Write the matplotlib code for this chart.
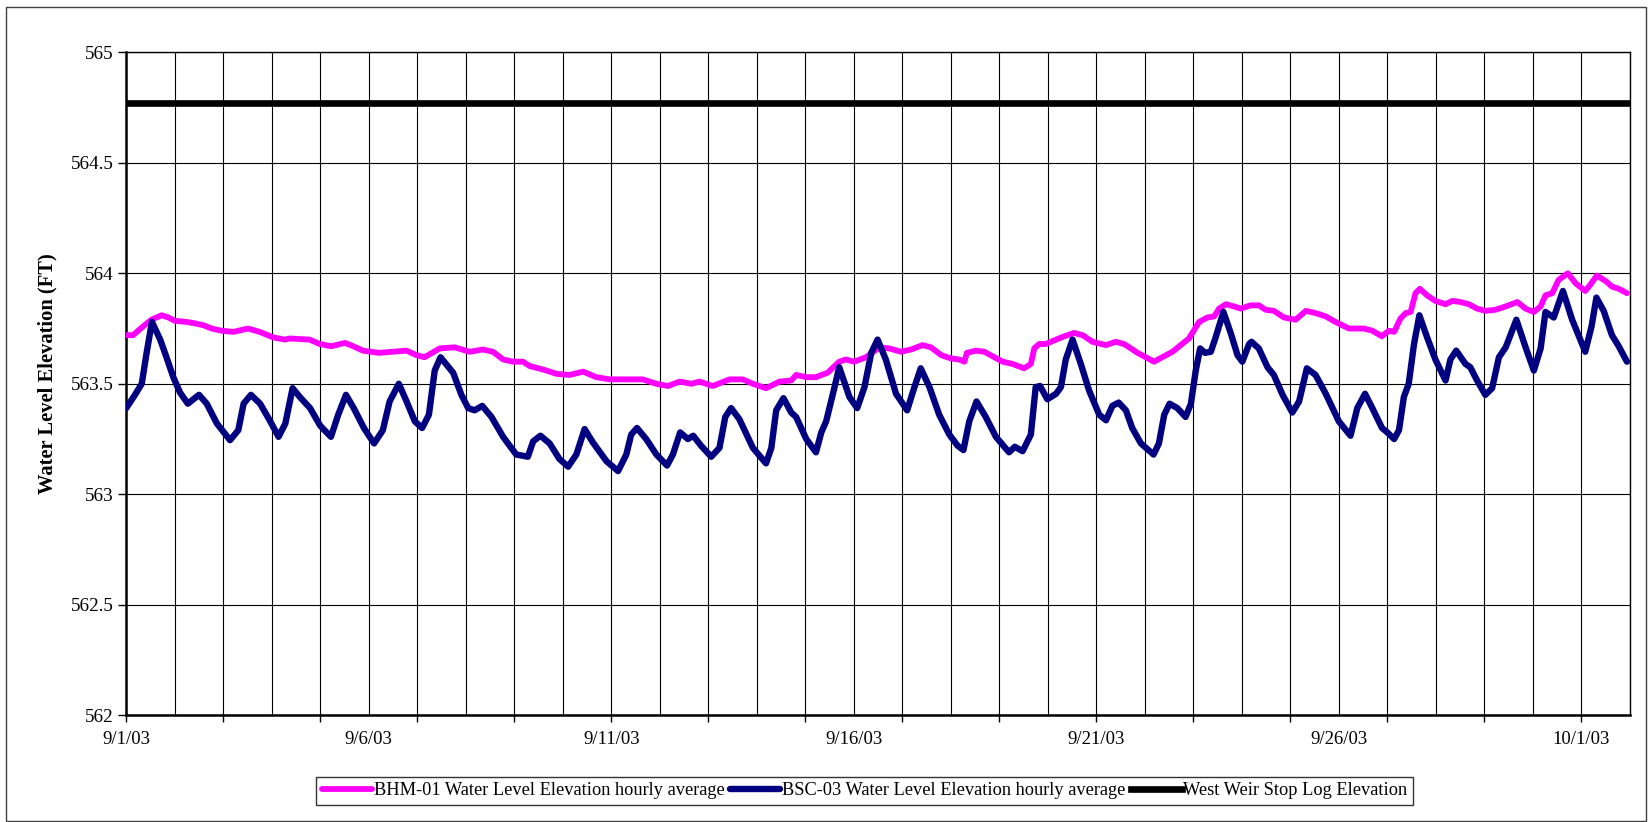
import datetime as dt
import matplotlib
matplotlib.use("Agg")
import matplotlib.pyplot as plt
import matplotlib.dates as mdates
from matplotlib.ticker import FixedLocator, FuncFormatter
from matplotlib.patches import Rectangle

# ---- data -----------------------------------------------------------------
start = dt.datetime(2003, 9, 1)

# BSC-03 water level elevation, hourly average (days since 9/1/03, ft)
bsc_day = [0.00, 0.18, 0.32, 0.42, 0.53, 0.70, 0.83, 0.97, 1.11, 1.27, 1.50, 1.66,
           1.87, 2.14, 2.31, 2.42, 2.57, 2.76, 2.97, 3.14, 3.28, 3.43, 3.58, 3.79,
           4.00, 4.22, 4.37, 4.53, 4.69, 4.90, 5.11, 5.29, 5.43, 5.62, 5.78, 5.95,
           6.10, 6.24, 6.36, 6.48, 6.74, 6.91, 7.05, 7.18, 7.34, 7.53, 7.77, 8.04,
           8.28, 8.39, 8.54, 8.73, 8.93, 9.11, 9.28, 9.45, 9.62, 9.90, 10.14, 10.31,
           10.41, 10.53, 10.72, 10.93, 11.15, 11.27, 11.42, 11.58, 11.69, 11.85, 12.06,
           12.23, 12.35, 12.47, 12.64, 12.92, 13.19, 13.30, 13.40, 13.55, 13.71, 13.81,
           14.02, 14.22, 14.33, 14.43, 14.57, 14.70, 14.91, 15.07, 15.22, 15.36, 15.49,
           15.66, 15.87, 16.10, 16.25, 16.38, 16.56, 16.76, 16.97, 17.14, 17.26, 17.38,
           17.53, 17.72, 17.93, 18.20, 18.32, 18.48, 18.65, 18.75, 18.84, 18.99, 19.17,
           19.27, 19.37, 19.51, 19.68, 19.85, 20.06, 20.20, 20.33, 20.46, 20.61, 20.74,
           20.92, 21.18, 21.29, 21.40, 21.51, 21.67, 21.84, 21.95, 22.05, 22.14, 22.24,
           22.36, 22.46, 22.62, 22.77, 22.91, 23.01, 23.15, 23.20, 23.35, 23.53, 23.66,
           23.84, 24.04, 24.18, 24.34, 24.52, 24.73, 25.00, 25.24, 25.38, 25.54, 25.69,
           25.89, 26.00, 26.14, 26.24, 26.34, 26.44, 26.55, 26.66, 26.82, 26.99, 27.20,
           27.30, 27.42, 27.61, 27.71, 27.85, 28.02, 28.16, 28.30, 28.44, 28.66, 28.85,
           29.02, 29.16, 29.26, 29.43, 29.62, 29.81, 30.08, 30.21, 30.31, 30.46, 30.63,
           30.77, 30.94]
bsc_level = [563.39, 563.45, 563.50, 563.64, 563.78, 563.70, 563.62, 563.53, 563.46,
             563.41, 563.45, 563.41, 563.32, 563.245, 563.29, 563.41, 563.45, 563.41,
             563.33, 563.26, 563.32, 563.48, 563.44, 563.39, 563.31, 563.26, 563.36,
             563.45, 563.39, 563.30, 563.23, 563.29, 563.42, 563.50, 563.42, 563.33,
             563.30, 563.36, 563.56, 563.62, 563.55, 563.45, 563.39, 563.38, 563.40,
             563.35, 563.26, 563.18, 563.17, 563.24, 563.265, 563.23, 563.16, 563.125,
             563.18, 563.295, 563.235, 563.15, 563.105, 563.18, 563.27, 563.30, 563.25,
             563.18, 563.13, 563.18, 563.28, 563.25, 563.265, 563.22, 563.17, 563.21,
             563.35, 563.39, 563.34, 563.21, 563.14, 563.21, 563.38, 563.435, 563.37,
             563.35, 563.25, 563.19, 563.28, 563.33, 563.455, 563.575, 563.44, 563.39,
             563.485, 563.64, 563.70, 563.61, 563.455, 563.38, 563.485, 563.57, 563.485,
             563.36, 563.27, 563.22, 563.20, 563.33, 563.42, 563.35, 563.26, 563.19,
             563.215, 563.195, 563.27, 563.485, 563.49, 563.43, 563.455, 563.485, 563.61,
             563.70, 563.59, 563.47, 563.36, 563.335, 563.40, 563.415, 563.38, 563.30,
             563.23, 563.18, 563.23, 563.36, 563.41, 563.39, 563.35, 563.41, 563.56,
             563.66, 563.64, 563.645, 563.71, 563.825, 563.73, 563.63, 563.60, 563.68,
             563.69, 563.66, 563.575, 563.54, 563.45, 563.37, 563.42, 563.57, 563.54,
             563.455, 563.33, 563.265, 563.39, 563.455, 563.39, 563.30, 563.28, 563.25,
             563.29, 563.44, 563.50, 563.68, 563.81, 563.71, 563.61, 563.515, 563.61,
             563.65, 563.59, 563.575, 563.515, 563.45, 563.48, 563.62, 563.665, 563.79,
             563.665, 563.56, 563.66, 563.825, 563.80, 563.92, 563.79, 563.645, 563.76,
             563.89, 563.83, 563.72, 563.67, 563.60]

# BHM-01 water level elevation, hourly average (days since 9/1/03, ft)
bhm_day = [0.00, 0.14, 0.35, 0.52, 0.73, 0.87, 1.00, 1.24, 1.38, 1.59, 1.76, 1.97,
           2.21, 2.51, 2.75, 3.03, 3.27, 3.37, 3.78, 3.99, 4.23, 4.51, 4.68, 4.88,
           5.21, 5.78, 5.98, 6.15, 6.46, 6.77, 7.08, 7.35, 7.56, 7.77, 7.97, 8.18,
           8.32, 8.59, 8.87, 9.14, 9.42, 9.69, 9.97, 10.36, 10.65, 10.93, 11.17,
           11.41, 11.65, 11.82, 12.09, 12.44, 12.71, 12.92, 13.19, 13.47, 13.71,
           13.81, 14.02, 14.22, 14.46, 14.70, 14.84, 15.01, 15.25, 15.53, 15.73,
           15.97, 16.18, 16.42, 16.59, 16.80, 17.00, 17.17, 17.28, 17.33, 17.52,
           17.69, 17.90, 18.07, 18.27, 18.51, 18.65, 18.72, 18.82, 18.96, 19.17,
           19.34, 19.54, 19.72, 19.92, 20.20, 20.40, 20.57, 20.68, 20.85, 21.02,
           21.19, 21.36, 21.57, 21.74, 21.91, 22.12, 22.29, 22.43, 22.53, 22.67,
           22.84, 22.98, 23.18, 23.35, 23.49, 23.66, 23.87, 24.11, 24.32, 24.52,
           24.73, 24.93, 25.21, 25.52, 25.69, 25.89, 26.03, 26.14, 26.27, 26.38,
           26.48, 26.58, 26.67, 26.82, 26.99, 27.20, 27.34, 27.51, 27.68, 27.85,
           28.02, 28.23, 28.44, 28.68, 28.85, 29.02, 29.16, 29.26, 29.40, 29.53,
           29.72, 29.88, 30.08, 30.19, 30.32, 30.50, 30.63, 30.77, 30.94]
bhm_level = [563.72, 563.72, 563.76, 563.79, 563.81, 563.80, 563.785, 563.78, 563.775,
             563.765, 563.75, 563.74, 563.735, 563.75, 563.735, 563.71, 563.70, 563.705,
             563.70, 563.68, 563.67, 563.685, 563.67, 563.65, 563.64, 563.65, 563.63,
             563.62, 563.66, 563.665, 563.645, 563.655, 563.645, 563.61, 563.60, 563.60,
             563.58, 563.565, 563.545, 563.54, 563.555, 563.53, 563.52, 563.52, 563.52,
             563.50, 563.49, 563.51, 563.50, 563.51, 563.49, 563.52, 563.52, 563.50,
             563.48, 563.51, 563.515, 563.54, 563.53, 563.53, 563.55, 563.60, 563.61,
             563.60, 563.62, 563.665, 563.66, 563.645, 563.655, 563.675, 563.665,
             563.63, 563.615, 563.61, 563.60, 563.64, 563.65, 563.645, 563.62, 563.60,
             563.59, 563.57, 563.59, 563.66, 563.68, 563.68, 563.70, 563.715, 563.73,
             563.72, 563.69, 563.675, 563.69, 563.68, 563.665, 563.64, 563.62, 563.60,
             563.62, 563.645, 563.675, 563.705, 563.78, 563.80, 563.805, 563.84, 563.86,
             563.85, 563.84, 563.855, 563.855, 563.835, 563.83, 563.80, 563.79, 563.83,
             563.82, 563.805, 563.78, 563.75, 563.75, 563.74, 563.715, 563.74, 563.735,
             563.795, 563.82, 563.825, 563.91, 563.93, 563.90, 563.875, 563.86, 563.875,
             563.87, 563.86, 563.84, 563.83, 563.835, 563.85, 563.87, 563.84, 563.825,
             563.85, 563.90, 563.91, 563.97, 564.00, 563.955, 563.92, 563.95, 563.99,
             563.965, 563.94, 563.93, 563.91]

# West weir stop log elevation (ft)
weir_elevation = 564.77

y_ticks = [562, 562.5, 563, 563.5, 564, 564.5, 565]
y_tick_labels = ["562", "562.5", "563", "563.5", "564", "564.5", "565"]
label_days = [0, 5, 10, 15, 20, 25, 30]

series_names = ["BHM-01 Water Level Elevation hourly average",
                "BSC-03 Water Level Elevation hourly average",
                "West Weir Stop Log Elevation"]

# ---- figure ---------------------------------------------------------------
plt.rcParams["font.family"] = ["Liberation Serif", "DejaVu Serif"]

to_dates = lambda days: [start + dt.timedelta(days=d) for d in days]
x0 = mdates.date2num(start)

fig = plt.figure(figsize=(16.48, 8.22), dpi=100)
ax = fig.add_axes([0.0766, 0.1298, 0.9124, 0.8066])

l1, = ax.plot(to_dates(bhm_day), bhm_level, color="#FF00FF", lw=4.2,
              solid_joinstyle="round", solid_capstyle="round", zorder=3)
l2, = ax.plot(to_dates(bsc_day), bsc_level, color="#000080", lw=4.6,
              solid_joinstyle="round", solid_capstyle="round", zorder=4)
l3 = ax.axhline(weir_elevation, color="black", lw=4.8, zorder=5)

ax.set_xlim(x0, x0 + 31)
ax.set_ylim(562, 565)

# daily grid lines, labels every five days, tick marks every two days
ax.xaxis.set_major_locator(FixedLocator([x0 + d for d in range(0, 32)]))
def fmt_day(v, pos):
    d = int(round(v - x0))
    if d in label_days:
        t = mdates.num2date(v)
        return f"{t.month}/{t.day}/{t:%y}"
    return ""
ax.xaxis.set_major_formatter(FuncFormatter(fmt_day))
ax.xaxis.set_minor_locator(FixedLocator([x0 + d for d in range(0, 31, 2)]))
ax.xaxis.remove_overlapping_locs = False
ax.tick_params(axis="x", which="major", length=0, pad=11, labelsize=13.5)
ax.tick_params(axis="x", which="minor", length=5, width=1.0, direction="out",
               color="black")

ax.set_yticks(y_ticks)
ax.set_yticklabels(y_tick_labels)
ax.tick_params(axis="y", which="major", length=6, width=1.0, direction="out",
               labelsize=13.8, pad=3)

ax.grid(True, which="major", color="black", lw=0.8)
ax.set_axisbelow(True)

for side in ("left", "bottom"):
    ax.spines[side].set_linewidth(1.8)
for side in ("top", "right"):
    ax.spines[side].set_linewidth(1.0)

ax.set_ylabel("Water Level Elevation (FT)", fontsize=14.8, fontweight="bold")
ax.yaxis.set_label_coords(-0.046, 0.515)

leg = fig.legend([l1, l2, l3], series_names, loc="center",
                 bbox_to_anchor=(0.5246, 0.0383), ncol=3, fontsize=13.2,
                 frameon=True, fancybox=False, edgecolor="black",
                 handlelength=2.75, handletextpad=0.1, columnspacing=0.3,
                 borderpad=0.3, borderaxespad=0)
leg.get_frame().set_linewidth(1.0)

# outer chart border
fig.patches.append(Rectangle((6 / 1648, 1 / 822), 1640 / 1648, 814 / 822,
                             transform=fig.transFigure, fill=False,
                             edgecolor="#404040", lw=1.0))

fig.savefig("out.png", dpi=100)
